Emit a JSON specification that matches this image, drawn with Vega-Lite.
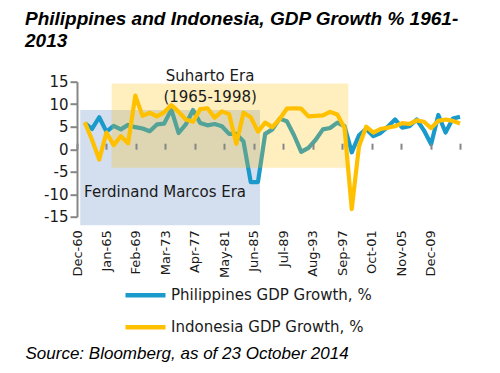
{
  "$schema": "https://vega.github.io/schema/vega-lite/v6.json",
  "width": 383,
  "height": 135,
  "autosize": {"type": "none"},
  "padding": {"left": 77, "top": 81.7, "right": 40, "bottom": 156.3},
  "background": "white",
  "config": {"view": {"stroke": null}, "font": "DejaVu Sans", "axis": {"labelOverlap": false}},
  "title": {
    "text": ["Philippines and Indonesia, GDP Growth % 1961-", "2013"],
    "anchor": "start",
    "frame": "group",
    "dx": -52,
    "font": "Liberation Sans",
    "fontSize": 19,
    "fontStyle": "italic",
    "fontWeight": "bold",
    "color": "#000000",
    "lineHeight": 22,
    "offset": 18
  },
  "datasets": {
    "gdp": [
      {"date": "1961-12-31", "series": "Philippines GDP Growth, %", "value": 5.8},
      {"date": "1962-12-31", "series": "Philippines GDP Growth, %", "value": 4.5},
      {"date": "1963-12-31", "series": "Philippines GDP Growth, %", "value": 7.1},
      {"date": "1964-12-31", "series": "Philippines GDP Growth, %", "value": 3.9},
      {"date": "1965-12-31", "series": "Philippines GDP Growth, %", "value": 5.2},
      {"date": "1966-12-31", "series": "Philippines GDP Growth, %", "value": 4.4},
      {"date": "1967-12-31", "series": "Philippines GDP Growth, %", "value": 5.4},
      {"date": "1968-12-31", "series": "Philippines GDP Growth, %", "value": 4.9},
      {"date": "1969-12-31", "series": "Philippines GDP Growth, %", "value": 4.6},
      {"date": "1970-12-31", "series": "Philippines GDP Growth, %", "value": 4.0},
      {"date": "1971-12-31", "series": "Philippines GDP Growth, %", "value": 5.5},
      {"date": "1972-12-31", "series": "Philippines GDP Growth, %", "value": 5.7},
      {"date": "1973-12-31", "series": "Philippines GDP Growth, %", "value": 8.8},
      {"date": "1974-12-31", "series": "Philippines GDP Growth, %", "value": 3.6},
      {"date": "1975-12-31", "series": "Philippines GDP Growth, %", "value": 5.5},
      {"date": "1976-12-31", "series": "Philippines GDP Growth, %", "value": 8.7},
      {"date": "1977-12-31", "series": "Philippines GDP Growth, %", "value": 5.8},
      {"date": "1978-12-31", "series": "Philippines GDP Growth, %", "value": 5.3},
      {"date": "1979-12-31", "series": "Philippines GDP Growth, %", "value": 5.6},
      {"date": "1980-12-31", "series": "Philippines GDP Growth, %", "value": 5.1},
      {"date": "1981-12-31", "series": "Philippines GDP Growth, %", "value": 3.4},
      {"date": "1982-12-31", "series": "Philippines GDP Growth, %", "value": 3.4},
      {"date": "1983-12-31", "series": "Philippines GDP Growth, %", "value": 1.7},
      {"date": "1984-12-31", "series": "Philippines GDP Growth, %", "value": -7.3},
      {"date": "1985-12-31", "series": "Philippines GDP Growth, %", "value": -7.3},
      {"date": "1986-12-31", "series": "Philippines GDP Growth, %", "value": 3.4},
      {"date": "1987-12-31", "series": "Philippines GDP Growth, %", "value": 4.4},
      {"date": "1988-12-31", "series": "Philippines GDP Growth, %", "value": 6.8},
      {"date": "1989-12-31", "series": "Philippines GDP Growth, %", "value": 6.2},
      {"date": "1990-12-31", "series": "Philippines GDP Growth, %", "value": 3.1},
      {"date": "1991-12-31", "series": "Philippines GDP Growth, %", "value": -0.6},
      {"date": "1992-12-31", "series": "Philippines GDP Growth, %", "value": 0.3},
      {"date": "1993-12-31", "series": "Philippines GDP Growth, %", "value": 2.1},
      {"date": "1994-12-31", "series": "Philippines GDP Growth, %", "value": 4.4},
      {"date": "1995-12-31", "series": "Philippines GDP Growth, %", "value": 4.7},
      {"date": "1996-12-31", "series": "Philippines GDP Growth, %", "value": 5.9},
      {"date": "1997-12-31", "series": "Philippines GDP Growth, %", "value": 5.1},
      {"date": "1998-12-31", "series": "Philippines GDP Growth, %", "value": -0.7},
      {"date": "1999-12-31", "series": "Philippines GDP Growth, %", "value": 3.1},
      {"date": "2000-12-31", "series": "Philippines GDP Growth, %", "value": 4.5},
      {"date": "2001-12-31", "series": "Philippines GDP Growth, %", "value": 2.9},
      {"date": "2002-12-31", "series": "Philippines GDP Growth, %", "value": 3.6},
      {"date": "2003-12-31", "series": "Philippines GDP Growth, %", "value": 5.0},
      {"date": "2004-12-31", "series": "Philippines GDP Growth, %", "value": 6.6},
      {"date": "2005-12-31", "series": "Philippines GDP Growth, %", "value": 4.8},
      {"date": "2006-12-31", "series": "Philippines GDP Growth, %", "value": 5.1},
      {"date": "2007-12-31", "series": "Philippines GDP Growth, %", "value": 6.6},
      {"date": "2008-12-31", "series": "Philippines GDP Growth, %", "value": 4.2},
      {"date": "2009-12-31", "series": "Philippines GDP Growth, %", "value": 1.1},
      {"date": "2010-12-31", "series": "Philippines GDP Growth, %", "value": 7.6},
      {"date": "2011-12-31", "series": "Philippines GDP Growth, %", "value": 3.7},
      {"date": "2012-12-31", "series": "Philippines GDP Growth, %", "value": 6.8},
      {"date": "2013-12-31", "series": "Philippines GDP Growth, %", "value": 7.2},
      {"date": "1961-12-31", "series": "Indonesia GDP Growth, %", "value": 6.0},
      {"date": "1962-12-31", "series": "Indonesia GDP Growth, %", "value": 2.1},
      {"date": "1963-12-31", "series": "Indonesia GDP Growth, %", "value": -2.3},
      {"date": "1964-12-31", "series": "Indonesia GDP Growth, %", "value": 3.7},
      {"date": "1965-12-31", "series": "Indonesia GDP Growth, %", "value": 0.9},
      {"date": "1966-12-31", "series": "Indonesia GDP Growth, %", "value": 2.9},
      {"date": "1967-12-31", "series": "Indonesia GDP Growth, %", "value": 1.3},
      {"date": "1968-12-31", "series": "Indonesia GDP Growth, %", "value": 11.9},
      {"date": "1969-12-31", "series": "Indonesia GDP Growth, %", "value": 7.4},
      {"date": "1970-12-31", "series": "Indonesia GDP Growth, %", "value": 8.1},
      {"date": "1971-12-31", "series": "Indonesia GDP Growth, %", "value": 7.3},
      {"date": "1972-12-31", "series": "Indonesia GDP Growth, %", "value": 8.2},
      {"date": "1973-12-31", "series": "Indonesia GDP Growth, %", "value": 9.8},
      {"date": "1974-12-31", "series": "Indonesia GDP Growth, %", "value": 8.3},
      {"date": "1975-12-31", "series": "Indonesia GDP Growth, %", "value": 6.6},
      {"date": "1976-12-31", "series": "Indonesia GDP Growth, %", "value": 6.1},
      {"date": "1977-12-31", "series": "Indonesia GDP Growth, %", "value": 8.9},
      {"date": "1978-12-31", "series": "Indonesia GDP Growth, %", "value": 9.1},
      {"date": "1979-12-31", "series": "Indonesia GDP Growth, %", "value": 7.0},
      {"date": "1980-12-31", "series": "Indonesia GDP Growth, %", "value": 8.4},
      {"date": "1981-12-31", "series": "Indonesia GDP Growth, %", "value": 7.8},
      {"date": "1982-12-31", "series": "Indonesia GDP Growth, %", "value": 1.2},
      {"date": "1983-12-31", "series": "Indonesia GDP Growth, %", "value": 8.1},
      {"date": "1984-12-31", "series": "Indonesia GDP Growth, %", "value": 7.1},
      {"date": "1985-12-31", "series": "Indonesia GDP Growth, %", "value": 3.9},
      {"date": "1986-12-31", "series": "Indonesia GDP Growth, %", "value": 5.9},
      {"date": "1987-12-31", "series": "Indonesia GDP Growth, %", "value": 4.9},
      {"date": "1988-12-31", "series": "Indonesia GDP Growth, %", "value": 6.7},
      {"date": "1989-12-31", "series": "Indonesia GDP Growth, %", "value": 9.0},
      {"date": "1990-12-31", "series": "Indonesia GDP Growth, %", "value": 9.1},
      {"date": "1991-12-31", "series": "Indonesia GDP Growth, %", "value": 9.0},
      {"date": "1992-12-31", "series": "Indonesia GDP Growth, %", "value": 7.3},
      {"date": "1993-12-31", "series": "Indonesia GDP Growth, %", "value": 7.4},
      {"date": "1994-12-31", "series": "Indonesia GDP Growth, %", "value": 7.5},
      {"date": "1995-12-31", "series": "Indonesia GDP Growth, %", "value": 8.3},
      {"date": "1996-12-31", "series": "Indonesia GDP Growth, %", "value": 7.7},
      {"date": "1997-12-31", "series": "Indonesia GDP Growth, %", "value": 4.7},
      {"date": "1998-12-31", "series": "Indonesia GDP Growth, %", "value": -13.3},
      {"date": "1999-12-31", "series": "Indonesia GDP Growth, %", "value": 0.6},
      {"date": "2000-12-31", "series": "Indonesia GDP Growth, %", "value": 5.0},
      {"date": "2001-12-31", "series": "Indonesia GDP Growth, %", "value": 3.7},
      {"date": "2002-12-31", "series": "Indonesia GDP Growth, %", "value": 4.5},
      {"date": "2003-12-31", "series": "Indonesia GDP Growth, %", "value": 4.8},
      {"date": "2004-12-31", "series": "Indonesia GDP Growth, %", "value": 5.1},
      {"date": "2005-12-31", "series": "Indonesia GDP Growth, %", "value": 5.8},
      {"date": "2006-12-31", "series": "Indonesia GDP Growth, %", "value": 5.6},
      {"date": "2007-12-31", "series": "Indonesia GDP Growth, %", "value": 6.4},
      {"date": "2008-12-31", "series": "Indonesia GDP Growth, %", "value": 6.1},
      {"date": "2009-12-31", "series": "Indonesia GDP Growth, %", "value": 4.7},
      {"date": "2010-12-31", "series": "Indonesia GDP Growth, %", "value": 6.3},
      {"date": "2011-12-31", "series": "Indonesia GDP Growth, %", "value": 6.6},
      {"date": "2012-12-31", "series": "Indonesia GDP Growth, %", "value": 6.3},
      {"date": "2013-12-31", "series": "Indonesia GDP Growth, %", "value": 5.7}
    ],
    "eras": [
      {"era": "Marcos", "start": "1961-05-15", "end": "1986-04-15", "top": 8.7, "bottom": -16.9},
      {"era": "Suharto", "start": "1965-09-20", "end": "1998-07-10", "top": 14.6, "bottom": -4.1}
    ],
    "notes": [
      {"label": "Suharto Era", "date": "1979-05-15", "value": 16.3},
      {"label": "(1965-1998)", "date": "1979-05-15", "value": 11.6},
      {"label": "Ferdinand Marcos Era", "date": "1973-02-15", "value": -9.4}
    ]
  },
  "resolve": {"axis": {"x": "independent"}},
  "layer": [
    {
      "data": {"name": "eras"},
      "transform": [{"filter": "datum.era == 'Marcos'"}],
      "mark": {"type": "rect", "color": "#d3deee"},
      "encoding": {
        "x": {
          "field": "start", "type": "temporal",
          "scale": {"type": "utc", "domain": [{"year": 1960, "month": 12, "date": 1, "utc": true}, {"year": 2014, "month": 1, "date": 1, "utc": true}], "nice": false},
          "axis": {
            "values": [
              {"year": 1960, "month": 12, "date": 1, "utc": true},
              {"year": 1965, "month": 1, "date": 1, "utc": true},
              {"year": 1969, "month": 2, "date": 1, "utc": true},
              {"year": 1973, "month": 3, "date": 1, "utc": true},
              {"year": 1977, "month": 4, "date": 1, "utc": true},
              {"year": 1981, "month": 5, "date": 1, "utc": true},
              {"year": 1985, "month": 6, "date": 1, "utc": true},
              {"year": 1989, "month": 7, "date": 1, "utc": true},
              {"year": 1993, "month": 8, "date": 1, "utc": true},
              {"year": 1997, "month": 9, "date": 1, "utc": true},
              {"year": 2001, "month": 10, "date": 1, "utc": true},
              {"year": 2005, "month": 11, "date": 1, "utc": true},
              {"year": 2009, "month": 12, "date": 1, "utc": true}
            ],
            "tickCount": 20,
            "format": "%b-%y",
            "labelAngle": -90,
            "labelFont": "DejaVu Sans",
            "labelFontSize": 13,
            "labelColor": "#1a1a1a",
            "labelPadding": 13,
            "labelFlush": false,
            "labelOverlap": false,
            "ticks": false,
            "domain": false,
            "grid": false,
            "title": "Source: Bloomberg, as of 23 October 2014",
            "titleFont": "Liberation Sans",
            "titleFontSize": 17,
            "titleFontStyle": "italic",
            "titleFontWeight": "normal",
            "titleColor": "#000000",
            "titleAnchor": "start",
            "titleAlign": "left",
            "titleBaseline": "alphabetic",
            "titleX": -52,
            "titleY": 141.6,
            "titleAngle": 0
          }
        },
        "x2": {"field": "end"},
        "y": {
          "field": "top", "type": "quantitative",
          "scale": {"domain": [-15, 15], "nice": false, "zero": false},
          "axis": {
            "values": [-15, -10, -5, 0, 5, 10, 15],
            "tickCount": 20,
            "labelExpr": "toString(datum.value)",
            "labelOverlap": false,
            "labelFlush": false,
            "title": null,
            "grid": false,
            "domainColor": "#868686",
            "domainWidth": 2,
            "tickColor": "#868686",
            "tickWidth": 2,
            "tickSize": 7,
            "labelFont": "DejaVu Sans",
            "labelFontSize": 15,
            "labelColor": "#1a1a1a",
            "labelPadding": 2
          }
        },
        "y2": {"field": "bottom"}
      }
    },
    {
      "mark": {"type": "rule", "color": "#868686", "strokeWidth": 2},
      "encoding": {"y": {"datum": 0, "type": "quantitative"}}
    },
    {
      "data": {"name": "gdp"},
      "mark": {"type": "line", "strokeWidth": 4.2, "strokeJoin": "round"},
      "encoding": {
        "x": {
          "field": "date", "type": "temporal",
          "axis": {
            "values": [
              {"year": 1960, "month": 12, "date": 1, "utc": true},
              {"year": 1965, "month": 1, "date": 1, "utc": true},
              {"year": 1969, "month": 2, "date": 1, "utc": true},
              {"year": 1973, "month": 3, "date": 1, "utc": true},
              {"year": 1977, "month": 4, "date": 1, "utc": true},
              {"year": 1981, "month": 5, "date": 1, "utc": true},
              {"year": 1985, "month": 6, "date": 1, "utc": true},
              {"year": 1989, "month": 7, "date": 1, "utc": true},
              {"year": 1993, "month": 8, "date": 1, "utc": true},
              {"year": 1997, "month": 9, "date": 1, "utc": true},
              {"year": 2001, "month": 10, "date": 1, "utc": true},
              {"year": 2005, "month": 11, "date": 1, "utc": true},
              {"year": 2009, "month": 12, "date": 1, "utc": true},
              {"year": 2014, "month": 1, "date": 1, "utc": true}
            ],
            "tickCount": 20,
            "labels": false,
            "domain": false,
            "grid": false,
            "ticks": true,
            "tickSize": 6,
            "tickWidth": 2,
            "tickColor": "#868686",
            "offset": -67.5,
            "title": null,
            "zindex": 1
          }
        },
        "y": {"field": "value", "type": "quantitative"},
        "color": {
          "field": "series", "type": "nominal",
          "scale": {"domain": ["Philippines GDP Growth, %", "Indonesia GDP Growth, %"], "range": ["#1a9acb", "#ffc000"]},
          "legend": {
            "orient": "none",
            "legendX": 46,
            "legendY": 191,
            "direction": "vertical",
            "title": null,
            "padding": 0,
            "symbolType": "stroke",
            "symbolSize": 1600,
            "symbolStrokeWidth": 4.5,
            "labelFont": "DejaVu Sans",
            "labelFontSize": 15,
            "labelColor": "#1a1a1a",
            "labelOffset": 3,
            "labelLimit": 0,
            "rowPadding": -12
          }
        }
      }
    },
    {
      "data": {"name": "eras"},
      "transform": [{"filter": "datum.era == 'Suharto'"}],
      "mark": {"type": "rect", "color": "#ffc000", "opacity": 0.25},
      "encoding": {
        "x": {"field": "start", "type": "temporal", "axis": null},
        "x2": {"field": "end"},
        "y": {"field": "top", "type": "quantitative"},
        "y2": {"field": "bottom"}
      }
    },
    {
      "data": {"name": "notes"},
      "mark": {"type": "text", "font": "DejaVu Sans", "fontSize": 15, "color": "#1a1a1a", "baseline": "middle", "align": "center"},
      "encoding": {
        "x": {"field": "date", "type": "temporal", "axis": null},
        "y": {"field": "value", "type": "quantitative"},
        "text": {"field": "label"}
      }
    }
  ]
}
